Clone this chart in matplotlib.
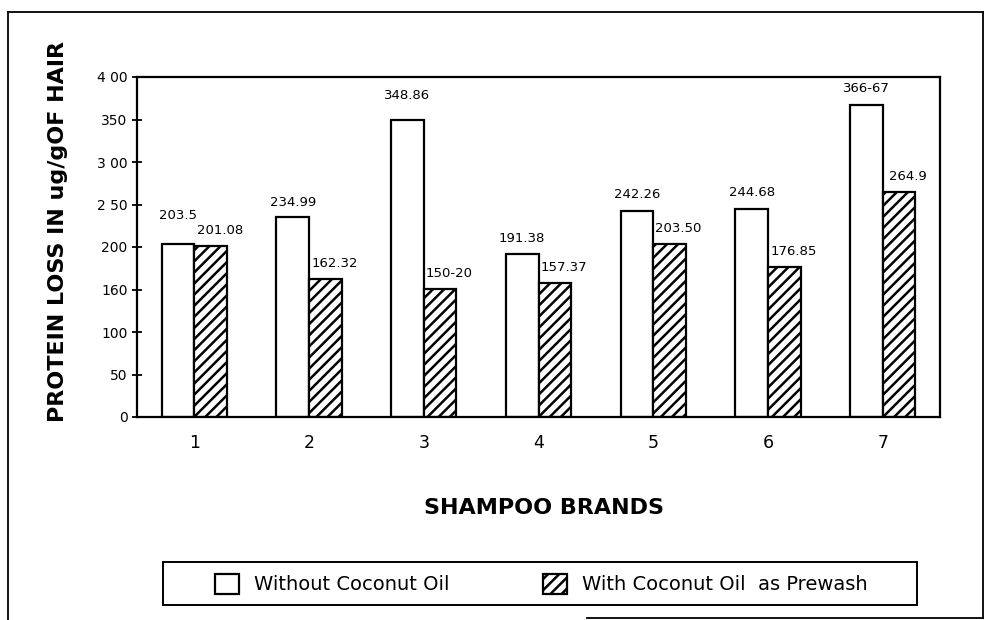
import matplotlib
matplotlib.use("Agg")
import matplotlib.pyplot as plt
from matplotlib.patches import Rectangle, Patch
from matplotlib.lines import Line2D
import numpy as np

# ---- data ----
brands = ["1", "2", "3", "4", "5", "6", "7"]
without_oil = [203.5, 234.99, 348.86, 191.38, 242.26, 244.68, 366.67]
with_oil = [201.08, 162.32, 150.20, 157.37, 203.50, 176.85, 264.9]
without_labels = ["203.5", "234.99", "348.86", "191.38", "242.26", "244.68", "366-67"]
with_labels = ["201.08", "162.32", "150-20", "157.37", "203.50", "176.85", "264.9"]
yticks = [0, 50, 100, 150, 200, 250, 300, 350, 400]
ytick_labels = ["0", "50", "100", "160", "200", "2 50", "3 00", "350", "4 00"]
series_names = ["Without Coconut Oil", "With Coconut Oil  as Prewash"]

# label vertical offsets (points) for the white-bar labels
without_label_dy = [16, 6, 13, 7, 7, 7, 7.5]

plt.rcParams['font.family'] = ['DejaVu Sans']
plt.rcParams['hatch.linewidth'] = 1.8

W, H = 986, 620
fig = plt.figure(figsize=(W / 100, H / 100), dpi=100)
ax = fig.add_axes([137 / W, 1 - 417 / H, (940 - 137) / W, (417 - 77) / H])

x = np.arange(len(brands))
bw = 0.285
HATCH = "///"
ax.bar(x - bw / 2, without_oil, width=bw, facecolor="white", edgecolor="black", linewidth=1.6)
ax.bar(x + bw / 2, with_oil, width=bw, facecolor="white", edgecolor="black", linewidth=1.6,
       hatch=HATCH)

for xi, v, lab, dy in zip(x, without_oil, without_labels, without_label_dy):
    ax.annotate(lab, (xi - bw / 2, v), xytext=(0, dy), textcoords="offset points",
                ha="center", va="bottom", fontsize=9.5)
for xi, v, lab in zip(x, with_oil, with_labels):
    ax.annotate(lab, (xi + bw / 2, v), xytext=(6.5, 6.5), textcoords="offset points",
                ha="center", va="bottom", fontsize=9.5)

ax.set_xlim(-0.5, len(brands) - 0.5)
ax.set_ylim(0, 400)
ax.set_xticks(x)
ax.set_xticklabels(brands, fontsize=12.5, fontweight="medium")
ax.set_yticks(yticks)
ax.set_yticklabels(ytick_labels, fontsize=10)
ax.tick_params(axis="x", length=0, pad=12)
ax.tick_params(axis="y", direction="inout", length=7.5, width=1.3, pad=3)
for s in ax.spines.values():
    s.set_linewidth(1.6)

# axis titles
fig.text(58 / W, 1 - 231 / H, "PROTEIN LOSS IN ug/gOF HAIR", rotation=90, ha="center",
         va="center", fontsize=16, fontweight="bold")
fig.text(544 / W, 1 - 508 / H, "SHAMPOO BRANDS", ha="center", va="center",
         fontsize=16, fontweight="bold")

# legend
handles = [Patch(facecolor="white", edgecolor="black", linewidth=1.6),
           Patch(facecolor="white", edgecolor="black", linewidth=1.6, hatch=HATCH)]
leg = fig.legend(handles, series_names, loc="center left",
                 bbox_to_anchor=(215 / W, 1 - 584 / H), ncol=2, frameon=False,
                 fontsize=14, handlelength=1.25, handleheight=1.2,
                 handletextpad=0.75, columnspacing=4.8, borderpad=0, borderaxespad=0)
fig.add_artist(Rectangle((163 / W, 1 - 605 / H), (917 - 163) / W, 43 / H,
                         transform=fig.transFigure, fill=False, edgecolor="black", linewidth=1.4))

# outer frame
lw = 1.3
fig.add_artist(Line2D([8 / W, 8 / W], [0, 1 - 12 / H], transform=fig.transFigure, color="black", lw=lw))
fig.add_artist(Line2D([8 / W, 983 / W], [1 - 12 / H, 1 - 12 / H], transform=fig.transFigure, color="black", lw=lw))
fig.add_artist(Line2D([983 / W, 983 / W], [1 - 12 / H, 1 - 618 / H], transform=fig.transFigure, color="black", lw=lw))
fig.add_artist(Line2D([587 / W, 983 / W], [1 - 618 / H, 1 - 618 / H], transform=fig.transFigure, color="black", lw=lw))

fig.savefig("out.png", dpi=100)
